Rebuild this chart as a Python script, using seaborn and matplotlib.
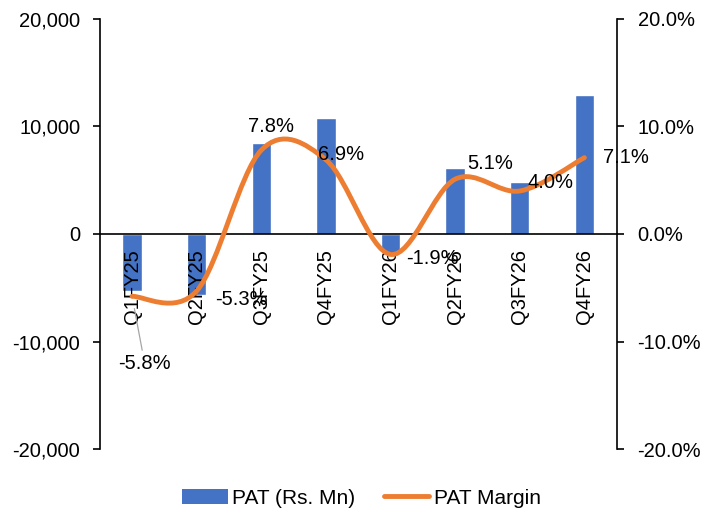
import seaborn as sns
import matplotlib.pyplot as plt
import numpy as np
from matplotlib.path import Path
from matplotlib.patches import PathPatch, Patch
from matplotlib.lines import Line2D
from matplotlib.ticker import FuncFormatter

quarters = ["Q1FY25", "Q2FY25", "Q3FY25", "Q4FY25", "Q1FY26", "Q2FY26", "Q3FY26", "Q4FY26"]
pat = [-5300, -5700, 8500, 10800, -1800, 6100, 4800, 12900]
margin = [-5.8, -5.3, 7.8, 6.9, -1.9, 5.1, 4.0, 7.1]

# label offsets (points) from each margin point
label_offsets = [(9, -48), (32, -6), (7, 17), (11, 4), (30, -3), (25, 11), (22, 6), (30, 0)]

BLUE = "#4472C4"
ORANGE = "#ED7D31"
FS = 14.5

sns.set_style("white")
plt.rcParams['font.family'] = ['Liberation Sans', 'DejaVu Sans']
plt.rcParams['text.color'] = 'black'
plt.rcParams['xtick.color'] = 'black'
plt.rcParams['ytick.color'] = 'black'

fig = plt.figure(figsize=(7.23, 5.12), dpi=100)
ax = fig.add_axes([0.138, 0.123, 0.715, 0.840])

sns.barplot(x=quarters, y=pat, color=BLUE, width=0.3, saturation=1, ax=ax)
ax.set_axisbelow(False)
ax.set_ylim(-20000, 20000)
ax.set_yticks([-20000, -10000, 0, 10000, 20000])
ax.yaxis.set_major_formatter(FuncFormatter(lambda v, p: f"{v:,.0f}"))
ax.set_xlim(-0.5, len(quarters) - 0.5)

ax.spines['top'].set_visible(False)
ax.spines['right'].set_visible(False)
ax.spines['left'].set_color('black')
ax.spines['left'].set_linewidth(1.2)
ax.spines['bottom'].set_position(('data', 0))
ax.spines['bottom'].set_color('black')
ax.spines['bottom'].set_linewidth(1.2)
ax.tick_params(axis='y', direction='out', length=5, width=1.2, color='black',
               labelsize=FS, pad=9, left=True, labelcolor='black')
ax.tick_params(axis='x', length=0, labelsize=FS, pad=11, labelcolor='black')
for lab in ax.get_xticklabels():
    lab.set_rotation(90)
ax.set_xlabel("")
ax.set_ylabel("")

ax2 = ax.twinx()
ax2.set_ylim(-20, 20)
ax2.set_yticks([-20, -10, 0, 10, 20])
ax2.yaxis.set_major_formatter(FuncFormatter(lambda v, p: f"{v:.1f}%"))
for s in ['top', 'bottom', 'left']:
    ax2.spines[s].set_visible(False)
ax2.spines['right'].set_color('black')
ax2.spines['right'].set_linewidth(1.2)
ax2.tick_params(axis='y', direction='out', length=5, width=1.2, color='black',
                labelsize=FS, pad=10, right=True, labelcolor='black')

# smoothed line (Excel-style Catmull-Rom bezier)
pts = np.column_stack([np.arange(len(margin)), margin]).astype(float)
verts = [pts[0]]
codes = [Path.MOVETO]
n = len(pts)
for i in range(n - 1):
    p_prev = pts[max(i - 1, 0)]
    p_next2 = pts[min(i + 2, n - 1)]
    c1 = pts[i] + (pts[i + 1] - p_prev) / 6
    c2 = pts[i + 1] - (p_next2 - pts[i]) / 6
    verts += [c1, c2, pts[i + 1]]
    codes += [Path.CURVE4] * 3
ax2.add_patch(PathPatch(Path(verts, codes), facecolor='none', edgecolor=ORANGE,
                        lw=3.5, capstyle='round', joinstyle='round', zorder=3))

for i, (m, off) in enumerate(zip(margin, label_offsets)):
    if i == 0:
        ax2.annotate(f"{m:.1f}%", (i, m), xytext=off, textcoords='offset points',
                     ha='center', va='center', fontsize=FS,
                     arrowprops=dict(arrowstyle='-', color='#A6A6A6', lw=0.9,
                                     shrinkA=0, shrinkB=9))
    else:
        ax2.annotate(f"{m:.1f}%", (i, m), xytext=off, textcoords='offset points',
                     ha='center', va='center', fontsize=FS)

handles = [Patch(facecolor=BLUE, edgecolor='none'),
           Line2D([0], [0], color=ORANGE, lw=3.5)]
fig.legend(handles, ["PAT (Rs. Mn)", "PAT Margin"], loc='center',
           bbox_to_anchor=(0.50, 0.027), ncol=2, frameon=False, fontsize=15,
           handlelength=2.2, handletextpad=0.2, columnspacing=1.35)

fig.savefig("out.png", dpi=100)
